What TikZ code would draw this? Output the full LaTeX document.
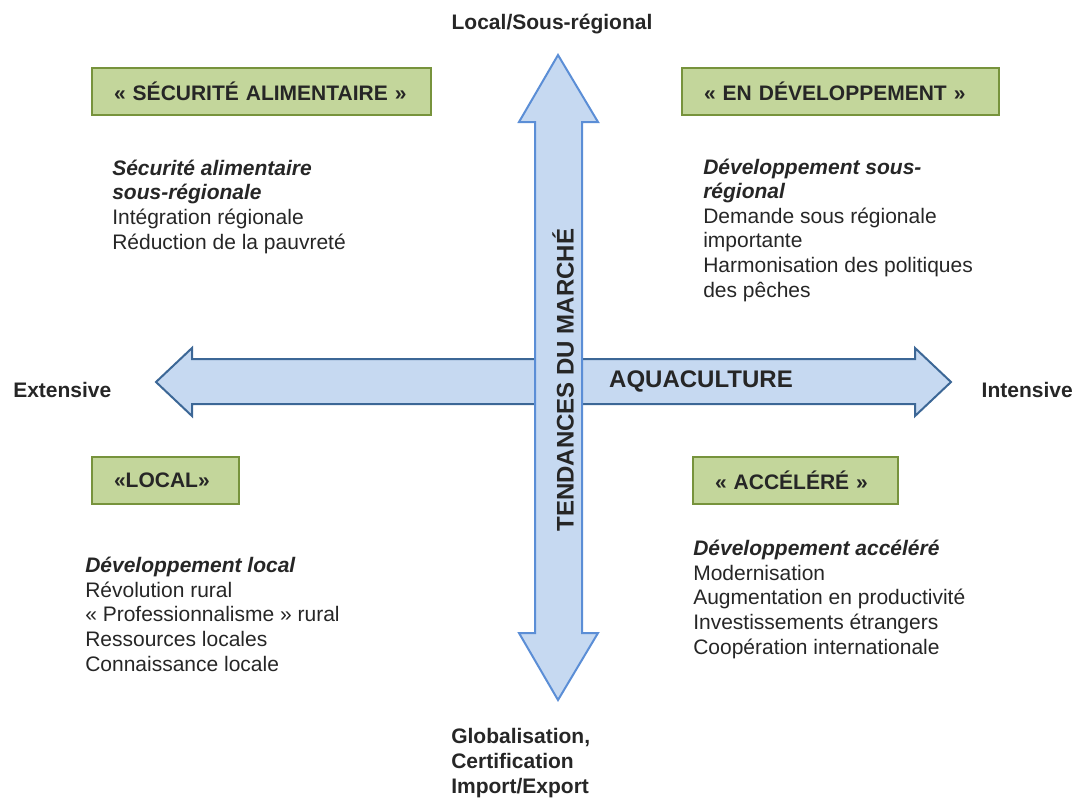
\documentclass[tikz,border=0pt]{standalone}
\usepackage{fontspec}
\setmainfont{Liberation Sans}
\definecolor{arrfill}{HTML}{C6D9F1}
\definecolor{vstroke}{HTML}{5B8ED6}
\definecolor{hstroke}{HTML}{3C6796}
\definecolor{gfill}{HTML}{C3D69B}
\definecolor{gdraw}{HTML}{77933C}
\definecolor{txt}{HTML}{262626}
\tikzset{
  greenbox/.style={draw=gdraw, fill=gfill, line width=1.6pt, anchor=north west,
    minimum height=35.25pt, inner xsep=16.5pt, inner ysep=0pt, align=left,
    font=\fontsize{15.75}{18.4}\selectfont\bfseries, text=txt},
  body/.style={anchor=base west, inner sep=0pt, align=left,
    font=\fontsize{15.75}{18.4}\selectfont, text=txt},
  axislabel/.style={inner sep=0pt, font=\fontsize{15.75}{18.4}\selectfont\bfseries, text=txt},
  biglabel/.style={inner sep=0pt, font=\fontsize{18}{21}\selectfont\bfseries, text=txt},
}
\begin{document}
\begin{tikzpicture}[x=0.75pt,y=-0.75pt]
\useasboundingbox (0,0) rectangle (1075,797);
% horizontal arrow
\draw[hstroke, fill=arrfill, line width=1.5pt, line join=miter]
  (156,382) -- (192,348) -- (192,359) -- (915,359) -- (915,348) -- (951,382)
  -- (915,416) -- (915,404) -- (192,404) -- (192,416) -- cycle;
% vertical arrow
\draw[vstroke, fill=arrfill, line width=1.5pt, line join=miter]
  (558,55) -- (598,122) -- (582,122) -- (582,633) -- (598,633) -- (558,700)
  -- (519,633) -- (535,633) -- (535,122) -- (519,122) -- cycle;
\node[biglabel] (aqua) at (701,381) {AQUACULTURE};
\node[biglabel, rotate=90] (tend) at (563,380) {TENDANCES DU MARCHÉ};
% axis labels
\node[axislabel] (top) at (552,24) {Local/Sous-régional};
\node[axislabel, anchor=west] (ext) at (13,390) {Extensive};
\node[axislabel, anchor=east] (int) at (1073,390) {Intensive};
\node[body, font=\fontsize{15.75}{18.4}\selectfont\bfseries] (bot) at (451,793) {Globalisation,\\Certification\\Import/Export};
% green boxes
\node[greenbox, minimum width=254.25pt, text width=221.25pt] (b1) at (91,67) {« SÉCURITÉ ALIMENTAIRE »};
\node[greenbox, minimum width=237.75pt, text width=204.75pt] (b2) at (681,67) {« EN DÉVELOPPEMENT »};
\node[greenbox, minimum width=110.25pt, text width=77.25pt] (b3) at (91,456) {«LOCAL»};
\node[greenbox, minimum width=153.75pt, text width=120.75pt] (b4) at (692,456) {« ACCÉLÉRÉ »};
% body texts (anchored at the baseline of the last line)
\node[body] (t1) at (112,249) {\textbf{\textit{Sécurité alimentaire}}\\\textbf{\textit{sous-régionale}}\\Intégration régionale\\Réduction de la pauvreté};
\node[body] (t2) at (703,297) {\textbf{\textit{Développement sous-}}\\\textbf{\textit{régional}}\\Demande sous régionale\\importante\\Harmonisation des politiques\\des pêches};
\node[body] (t3) at (85,671) {\textbf{\textit{Développement local}}\\Révolution rural\\« Professionnalisme » rural\\Ressources locales\\Connaissance locale};
\node[body] (t4) at (693,654) {\textbf{\textit{Développement accéléré}}\\Modernisation\\Augmentation en productivité\\Investissements étrangers\\Coopération internationale};
\end{tikzpicture}
\end{document}
